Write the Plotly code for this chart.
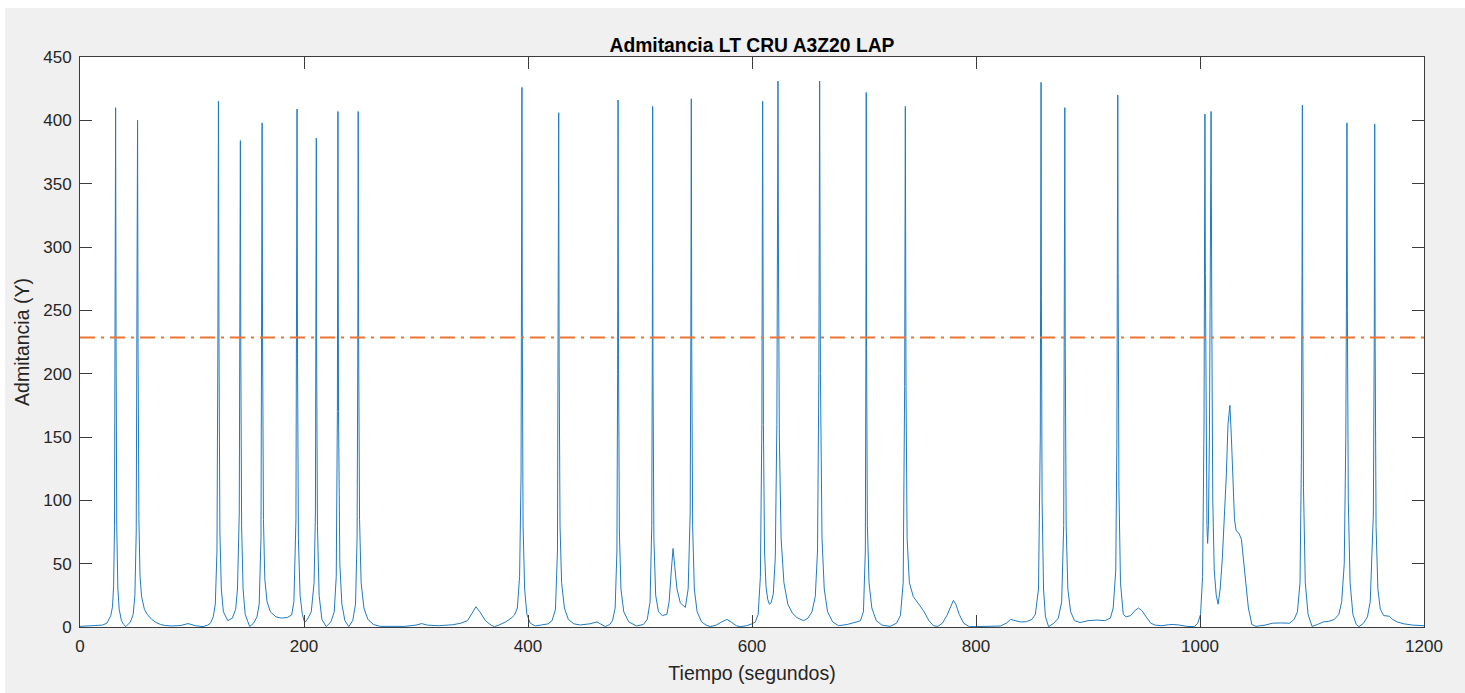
import plotly.graph_objects as go

# ---------------- data ----------------
tiempo_s = [
    0, 5, 10, 15, 20, 24, 26,
    27.5, 29, 30, 30.8, 31.4, 31.8, 32.2, 32.8, 33.8, 35, 37,
    39, 41, 43,
    45, 47.5, 49, 50.2, 51, 51.4, 51.8, 52.6, 53.6, 55, 57.5, 60, 64, 68, 72, 76,
    82, 90, 96.5, 103, 110, 114,
    116.5, 119, 120.8, 122.3, 123.1, 123.6, 124.1, 124.9, 126.2, 128, 132,
    136, 139, 140.6, 142.2, 142.8, 143.2, 143.6, 144.3, 145.6, 147.5, 151.5,
    155, 158, 160, 161.6, 162.2, 162.6, 163.0, 163.8, 165, 167, 170, 175, 180, 185, 189,
    191, 192.8, 193.4, 193.8, 194.2, 195, 196.5, 198.5, 200.6, 203,
    206.5, 209, 210.2, 210.7, 211, 211.3, 212, 213.5, 216, 219.8,
    224, 227, 228.8, 229.8, 230.3, 230.8, 232, 233.8, 236.5, 240,
    243.5, 246, 247.4, 248, 248.4, 248.8, 249.6, 251, 253.5, 257, 262, 268,
    275, 290, 300, 305, 310, 320, 333, 340, 346, 350, 353.6, 357, 362, 367, 370, 374, 380, 385, 388,
    390.5, 392.5, 393.8, 394.3, 394.6, 394.9, 395.6, 397, 399, 402, 406.5,
    412, 418,
    421.5, 424.5, 426.3, 427, 427.4, 427.8, 428.6, 430, 432.5, 436, 441, 446.7,
    455, 461.6, 466, 469, 473,
    475.5, 477.8, 479.4, 480, 480.4, 480.8, 481.6, 483, 485.5, 490, 497,
    503, 506.5, 509, 510.5, 511.0, 511.3, 511.6, 512.4, 514, 516.5, 520, 524,
    526, 528, 529.5, 531, 533, 536, 540.5,
    543, 544.8, 545.4, 545.8, 546.2, 547, 548.5, 551, 555, 559, 562.8,
    568, 573, 577.7, 582, 586, 589.6, 595, 600,
    603, 605.5, 607.5, 608.8, 609.5, 610.2, 611.2, 612.5, 614, 615.5, 617, 619,
    620.8, 622.2, 622.8, 623.2, 623.6, 624.4, 626, 628.5, 632, 636, 640, 646,
    650, 653.5, 656.5, 658.5, 659.7, 660.4, 661.1, 662.5, 664.5, 667.5, 672, 677.4,
    685, 692, 696.7, 699.5, 701.2, 701.7, 702, 702.3, 703, 704.5, 707, 711, 716, 723.5,
    729, 732.5, 735, 736.3, 736.9, 737.5, 738.5, 740.5, 744, 748, 753, 758, 762,
    766, 770, 774, 777.5, 779.8, 782, 785, 789, 794,
    800, 808, 815, 822, 827, 831, 835, 840, 845, 850,
    853, 855.8, 857.4, 857.8, 858.1, 858.4, 859, 860.3, 862, 864.8,
    869.5, 873.5, 876.5, 878.3, 878.9, 879.3, 879.7, 880.5, 882, 884.5, 888, 893, 900, 908, 915, 920,
    922.5, 924.8, 925.8, 926.3, 926.6, 926.9, 927.6, 929, 931.5, 934, 938, 942,
    945, 948, 952, 956, 960, 966, 972, 976, 982, 988, 995,
    998, 1000.5, 1002.3, 1003.6, 1004.1, 1004.4, 1004.8, 1005.5, 1006.2, 1006.8,
    1007.5, 1008.4, 1009.3, 1009.9, 1010.5, 1011.4, 1012.7, 1014.5, 1016.2,
    1018, 1020, 1022, 1023.5, 1025, 1026.7, 1028, 1029.2, 1030.8, 1032.3, 1034.8,
    1037, 1040, 1043.2, 1046.3, 1050,
    1058, 1065, 1072, 1080, 1084,
    1087, 1089.3, 1090.5, 1091.1, 1091.4, 1091.7, 1092.4, 1094, 1096.5, 1100,
    1105, 1110, 1115, 1120, 1124,
    1126.5, 1128.8, 1130.2, 1130.8, 1131.2, 1131.6, 1132.4, 1134, 1136.5, 1139.5, 1142,
    1146, 1149.5, 1152, 1154.8, 1155.6, 1156, 1156.4, 1157.2, 1158.8, 1161, 1164,
    1166.5, 1169, 1172, 1176, 1182, 1190, 1200,
]

admitancia_y = [
    0.5, 0.6, 0.8, 1.0, 1.5, 3, 6,
    9, 16, 32, 80, 230, 410, 230, 80, 30, 14, 5,
    2, 0.3, 2,
    4, 10, 25, 75, 220, 400, 225, 85, 40, 24, 14, 10, 6, 3.5, 2, 1.2,
    0.8, 1.2, 2.7, 1.0, 0.3, 1.5,
    3, 8, 18, 60, 220, 415, 225, 75, 30, 12, 5,
    7, 14, 30, 90, 220, 384, 210, 80, 30, 10, 0.3,
    3, 8, 18, 70, 220, 398, 230, 85, 38, 20, 12, 8, 7, 7.5, 9.5,
    20, 85, 220, 409, 215, 70, 25, 10, 3.5, 6,
    12, 35, 90, 210, 386, 210, 80, 25, 6, 0.3,
    4, 12, 40, 170, 407, 170, 50, 18, 5, 0.3,
    5, 18, 70, 210, 407, 220, 85, 35, 15, 6, 2, 0.5,
    0.5, 0.5, 1.5, 2.7, 1.5, 1.0, 1.8, 3, 5, 11, 16, 12, 5, 1.5, 0.2, 1.5, 4, 7, 9.5,
    15, 40, 120, 260, 426, 240, 80, 30, 10, 3, 0.8,
    1.6, 2.5,
    5, 14, 60, 200, 406, 210, 80, 35, 15, 6, 2.5, 1.6,
    2.5, 4, 2, 0.3, 2,
    5, 15, 60, 200, 416, 215, 75, 30, 12, 4, 0.8,
    2, 6, 20, 80, 220, 411, 200, 70, 25, 12, 9, 10,
    20, 45, 62, 48, 30, 19, 15.5,
    30, 90, 230, 417, 220, 80, 30, 12, 4, 1.5, 0.3,
    1.5, 4, 6, 3.5, 1, 0.3, 1, 2.5,
    4, 10, 40, 160, 415, 160, 60, 32, 22, 18, 19, 26,
    55, 160, 300, 431, 300, 150, 70, 35, 18, 11, 7.5, 5,
    7, 12, 24, 60, 200, 431, 200, 70, 30, 12, 4, 1,
    2, 3.5, 4.8, 12, 60, 220, 422, 220, 80, 35, 15, 5, 1.5, 0.5,
    3, 9, 35, 190, 411, 190, 70, 35, 24, 19, 13, 5, 1,
    0.5, 3, 9, 17, 21, 18, 10, 3, 0.3,
    0.3, 0.5, 1, 0.8, 3, 6, 5, 4, 4.2, 6,
    10, 30, 150, 280, 430, 260, 100, 30, 8, 0.3,
    3, 7, 20, 80, 230, 410, 220, 80, 30, 12, 5, 3.5, 5, 5.5, 5, 7,
    15, 45, 150, 300, 420, 280, 110, 35, 10, 8, 9, 13,
    15, 13, 8, 3, 1.5, 1, 1.8, 2, 1.5, 0.5, 0.3,
    3, 10, 40, 160, 320, 405, 280, 140, 80, 66,
    80, 150, 300, 407, 250, 100, 45, 25, 18,
    30, 55, 90, 120, 160, 175, 150, 122, 85, 76, 74,
    69, 42, 15, 2, 0.5,
    1.5, 3, 3.2, 3, 6,
    12, 35, 130, 280, 412, 260, 110, 35, 10, 0.5,
    2, 4, 4.5, 6, 10,
    20, 50, 150, 270, 398, 250, 100, 35, 10, 2, 0.3,
    3, 8, 20, 90, 230, 397, 220, 80, 30, 14, 9,
    8.5, 8.5, 6, 4, 2.5, 1.5, 1,
]

umbral_y = 228.5
rango_x = [0, 1200]
rango_y = [0, 450]

titulo = "Admitancia LT CRU A3Z20 LAP"
etiqueta_x = "Tiempo (segundos)"
etiqueta_y = "Admitancia (Y)"

assert len(tiempo_s) == len(admitancia_y), (len(tiempo_s), len(admitancia_y))

# ---------------- figure ----------------
W, H = 1465, 693
ML, MR, MT, MB = 80, 41, 57, 66
FONT = "Liberation Sans, Arial, sans-serif"
AX = "#3c3c3c"

fig = go.Figure()
fig.add_trace(go.Scatter(
    x=tiempo_s, y=admitancia_y, mode="lines",
    line=dict(color="#1f7bc2", width=1),
    showlegend=False, name="Admitancia",
))
fig.add_trace(go.Scatter(
    x=rango_x, y=[umbral_y, umbral_y], mode="lines",
    line=dict(color="#ec7532", width=2, dash="15px,6px,3px,6px"),
    showlegend=False, name="Umbral",
))

pw = W - ML - MR
ph = H - MT - MB
def px_x(p):
    return (p - ML) / pw
def px_y(p):
    return (H - MB - p) / ph

fig.update_layout(
    width=W, height=H,
    margin=dict(l=ML, r=MR, t=MT, b=MB, pad=0),
    paper_bgcolor="#f0f0f0", plot_bgcolor="#ffffff",
    font=dict(family=FONT, size=17, color="#262626"),
    title=dict(text="<b>" + titulo + "</b>", x=0.5, xref="paper",
               y=1 - 45 / H, yref="container", yanchor="middle",
               font=dict(size=19.3, color="#000000", family=FONT)),
    shapes=[
        dict(type="rect", xref="paper", yref="paper", layer="below",
             x0=px_x(0), x1=px_x(W), y0=px_y(0), y1=px_y(8),
             fillcolor="#ffffff", line=dict(width=0)),
        dict(type="rect", xref="paper", yref="paper", layer="below",
             x0=px_x(0), x1=px_x(5), y0=px_y(H), y1=px_y(0),
             fillcolor="#ffffff", line=dict(width=0)),
    ],
)
fig.update_xaxes(
    range=rango_x, dtick=200, tick0=0,
    showgrid=False, zeroline=False,
    showline=True, linecolor=AX, linewidth=1, mirror="ticks",
    ticks="inside", ticklen=12, tickcolor=AX, tickwidth=1,
    tickfont=dict(size=17, color="#262626"),
    ticklabelstandoff=4,
    title=dict(text=etiqueta_x, font=dict(size=19.5, color="#262626"), standoff=10),
)
fig.update_yaxes(
    range=rango_y, dtick=50, tick0=0,
    showgrid=False, zeroline=False,
    showline=True, linecolor=AX, linewidth=1, mirror="ticks",
    ticks="inside", ticklen=12, tickcolor=AX, tickwidth=1,
    tickfont=dict(size=17, color="#262626"),
    ticklabelstandoff=4,
    title=dict(text=etiqueta_y, font=dict(size=19.5, color="#262626"), standoff=8),
)

fig.write_html("out.html")
